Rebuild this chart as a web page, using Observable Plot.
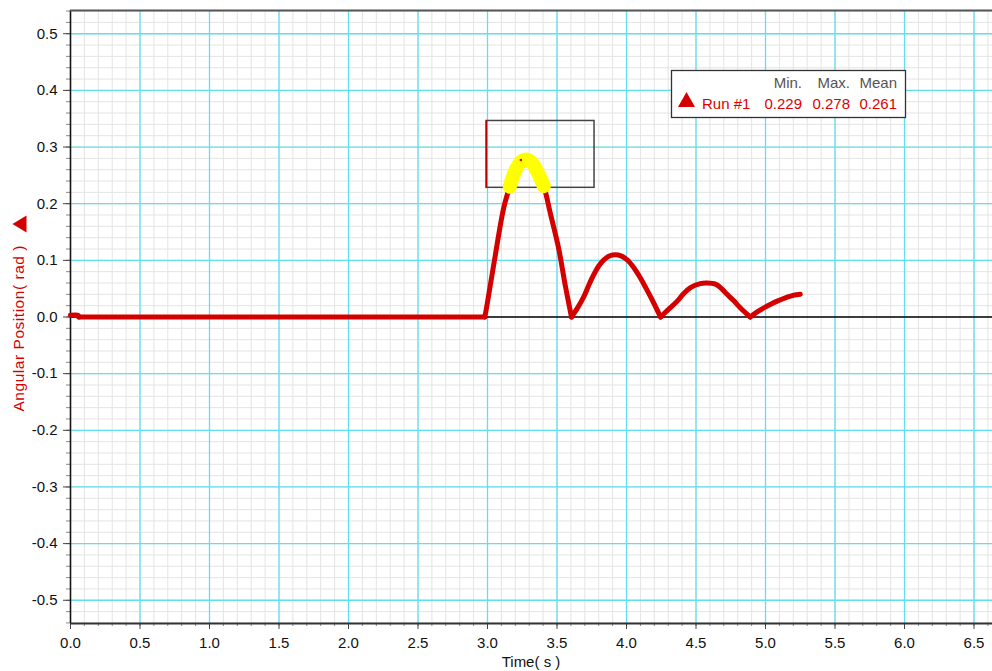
<!DOCTYPE html>
<html><head><meta charset="utf-8">
<script src="https://cdn.jsdelivr.net/npm/d3@7"></script>
<script src="https://cdn.jsdelivr.net/npm/@observablehq/plot@0.6"></script>
<style>html,body{margin:0;padding:0;background:#fff;} #chart{width:992px;height:671px;}</style>
</head><body><div id="chart"></div>
<script>
// Run #1 angular position (rad) vs time (s)
const time  = [0, 0.055, 0.06, 2.98, 2.99, 3.05, 3.117, 3.16, 3.2, 3.24, 3.28, 3.32, 3.36, 3.405, 3.45, 3.511, 3.56, 3.604,
               3.65, 3.693, 3.73, 3.765, 3.80, 3.837, 3.88, 3.921, 3.96, 4.005, 4.05, 4.1, 4.14, 4.185, 4.245,
               4.3, 4.365, 4.41, 4.46, 4.53, 4.58, 4.64, 4.68, 4.724, 4.77, 4.82, 4.89,
               4.94, 4.988, 5.084, 5.18, 5.25];
const angle = [0.003, 0.003, 0, 0, 0.012, 0.10, 0.193, 0.230, 0.258, 0.274, 0.278, 0.272, 0.256, 0.231, 0.185, 0.122, 0.055, 0,
               0.017, 0.036, 0.057, 0.075, 0.090, 0.101, 0.108, 0.110, 0.108, 0.101, 0.088, 0.069, 0.051, 0.030, 0,
               0.013, 0.028, 0.041, 0.052, 0.059, 0.060, 0.058, 0.051, 0.040, 0.029, 0.016, 0,
               0.009, 0.016, 0.028, 0.037, 0.040];
const xTicks = [0, 0.5, 1, 1.5, 2, 2.5, 3, 3.5, 4, 4.5, 5, 5.5, 6, 6.5];
const yTicks = [-0.5, -0.4, -0.3, -0.2, -0.1, 0, 0.1, 0.2, 0.3, 0.4, 0.5];
const xDomain = [0, 6.633];
const yDomain = [-0.541, 0.541];
const selT = [2.993, 3.770];
const selA = [0.228, 0.346];
const peakT = [3.24];
const peakA = [0.277];
const statsHeader = ["Min.", "Max.", "Mean"];
const runName = "Run #1";
const statsValues = [0.229, 0.278, 0.261];
const xLabel = "Time( s )";
const yLabel = "Angular Position( rad )";

const RED = "#d40000", CYAN = "#62dfee", MINOR = "#e4e4e4";
// split the trace into arcs at its zero touches so each arc is smoothed on its own
const data = [];
let seg = 0;
time.forEach((t, i) => {
  data.push({t, a: angle[i], seg});
  if (angle[i] === 0 && i < time.length - 1) { seg++; data.push({t, a: 0, seg}); }
});
const highlighted = data.filter(d => d.a >= statsValues[0] && d.t >= selT[0] && d.t <= selT[1]);
const selection = [{t0: selT[0], t1: selT[1], a0: selA[0], a1: selA[1]}];
const peak = peakT.map((t, i) => ({t, a: peakA[i]}));
const minorX = d3.range(0, 67).map(i => i / 10).filter(v => v <= xDomain[1]);
const minorY = d3.range(-27, 28).map(i => i / 50);
const fmt = d => d.toFixed(1);

const W = 992, H = 671, ML = 70, MT = 10, MB = 48, MR = 0;
const svg = Plot.plot({
  width: W, height: H,
  marginLeft: ML, marginRight: MR, marginTop: MT, marginBottom: MB,
  x: {domain: xDomain},
  y: {domain: yDomain},
  style: {fontFamily: "'Liberation Sans', Arial, sans-serif", fontSize: "15px", background: "#fff", color: "#000"},
  marks: [
    Plot.gridX(minorX, {stroke: MINOR, strokeOpacity: 1}),
    Plot.gridY(minorY, {stroke: MINOR, strokeOpacity: 1}),
    Plot.gridX(xTicks, {stroke: CYAN, strokeOpacity: 1, strokeWidth: 1.3}),
    Plot.gridY(yTicks.filter(v => v !== 0), {stroke: CYAN, strokeOpacity: 1, strokeWidth: 1.3}),
    Plot.ruleY([0], {stroke: "#000", strokeWidth: 1.3}),
    Plot.axisX(minorX, {tickSize: 3, tickFormat: () => "", label: null, stroke: "#888"}),
    Plot.axisX(xTicks, {tickSize: 6, tickPadding: 8, tickFormat: fmt, label: null, stroke: "#444", fill: "#111"}),
    Plot.axisY(minorY, {tickSize: 4, tickFormat: () => "", label: null, stroke: "#888"}),
    Plot.axisY(yTicks, {tickSize: 7, tickPadding: 6, tickFormat: fmt, label: null, stroke: "#444", fill: "#111"}),
    Plot.ruleX([xDomain[0]], {stroke: "#111", strokeWidth: 1.5}),
    Plot.ruleY([yDomain[0]], {stroke: "#333", strokeWidth: 2}),
    Plot.ruleY([yDomain[1]], {stroke: "#555", strokeWidth: 2}),
    Plot.rect(selection, {x1: "t0", x2: "t1", y1: "a0", y2: "a1", fill: "none", stroke: "#444", strokeWidth: 1.5}),
    Plot.ruleX(selection, {x: "t0", y1: "a0", y2: "a1", stroke: "#c00000", strokeWidth: 1.5}),
    Plot.line(data, {x: "t", y: "a", z: "seg", curve: "catmull-rom", stroke: RED, strokeWidth: 5, strokeLinejoin: "round", strokeLinecap: "round"}),
    Plot.line(highlighted, {x: "t", y: "a", curve: "catmull-rom", stroke: "#ffff00", strokeWidth: 14, strokeLinejoin: "round", strokeLinecap: "round"}),
    Plot.dot(peak, {x: "t", y: "a", r: 1.3, fill: "#e00000", stroke: "none"})
  ]
});
document.getElementById("chart").appendChild(svg);

const s = d3.select(svg);
const font = "'Liberation Sans', Arial, sans-serif";
// x axis label
s.append("text").attr("x", (ML + W - MR) / 2).attr("y", 667)
  .attr("text-anchor", "middle").attr("font-family", font).attr("font-size", 15).attr("fill", "#111").text(xLabel);
// y axis label with run marker
s.append("text").attr("transform", "translate(24,328.5) rotate(-90)")
  .attr("text-anchor", "middle").attr("font-family", font).attr("font-size", 15.5).attr("fill", RED)
  .attr("textLength", 166).text(yLabel);
s.append("polygon").attr("points", "12.5,224 26.5,215.5 26.5,232.5").attr("fill", RED);

// statistics box
const g = s.append("g").attr("font-family", font).attr("font-size", 15).attr("text-anchor", "start");
g.append("rect").attr("x", 671.5).attr("y", 70.5).attr("width", 234).attr("height", 47)
  .attr("fill", "#fff").attr("stroke", "#333").attr("stroke-width", 1.3);
const colX = [802, 850, 897];
statsHeader.forEach((h, i) => g.append("text").attr("x", colX[i]).attr("y", 88).attr("text-anchor", "end").attr("fill", "#555").text(h));
g.append("polygon").attr("points", "686.5,92 678,107 695,107").attr("fill", RED);
g.append("text").attr("x", 702).attr("y", 108.5).attr("text-anchor", "start").attr("fill", "#e00000").text(runName);
statsValues.forEach((v, i) => g.append("text").attr("x", colX[i]).attr("y", 108.5).attr("text-anchor", "end").attr("fill", "#e00000").text(v.toFixed(3)));
</script>
</body></html>
